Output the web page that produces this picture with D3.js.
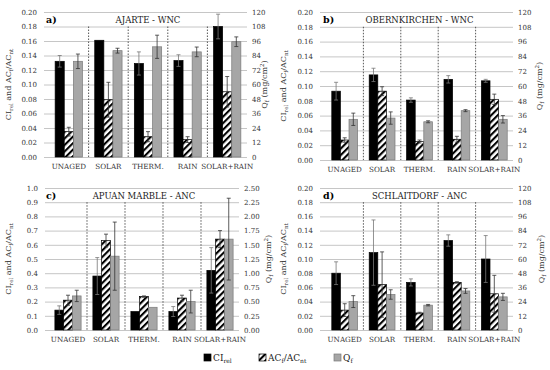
<!DOCTYPE html>
<html><head><meta charset="utf-8">
<script src="https://cdn.jsdelivr.net/npm/d3@7"></script>
<style>body{margin:0;background:#fff}svg{display:block}</style>
</head><body>
<script>
const categories = ["UNAGED","SOLAR","THERM.","RAIN","SOLAR+RAIN"];

// Panel a) AJARTE - WNC
const ciA = [0.132,0.161,0.129,0.133,0.180];
const ciErrA = [0.008,0,0.016,0.008,0.017];
const acA = [0.035,0.079,0.028,0.024,0.090];
const acErrA = [0.006,0.024,0.007,0.004,0.021];
const qA = [79.2,88.0,91.2,87.0,95.4];
const qErrA = [6,2,9.6,4,4];

// Panel b) OBERNKIRCHEN - WNC
const ciB = [0.093,0.115,0.081,0.109,0.107];
const ciErrB = [0.012,0.009,0.003,0.005,0.002];
const acB = [0.027,0.093,0.025,0.028,0.082];
const acErrB = [0.003,0.006,0.002,0.004,0.007];
const qB = [33,34,31,40,33];
const qErrB = [5,5,0.8,0.8,3];

// Panel c) APUAN MARBLE - ANC
const ciC = [0.14,0.38,0.13,0.13,0.42];
const ciErrC = [0.03,0.13,0,0.035,0.16];
const acC = [0.21,0.63,0.235,0.225,0.64];
const acErrC = [0.035,0.045,0.005,0.02,0.06];
const qC = [0.60,1.30,0.40,0.50,1.60];
const qErrC = [0.10,0.60,0,0.20,0.72];

// Panel d) SCHLAITDORF - ANC
const ciD = [0.080,0.109,0.067,0.126,0.100];
const ciErrD = [0.016,0.046,0.005,0.008,0.033];
const acD = [0.028,0.064,0.024,0.067,0.051];
const acErrD = [0.009,0.046,0.001,0.001,0.026];
const qD = [24,30,21,33,28];
const qErrD = [5,4,0.6,2,3];

const leftTicksWNC = [0,0.02,0.04,0.06,0.08,0.10,0.12,0.14,0.16,0.18,0.20];
const rightTicksWNC = [0,12,24,36,48,60,72,84,96,108,120];
const leftTicksC = [0,0.1,0.2,0.3,0.4,0.5,0.6,0.7,0.8,0.9,1.0];
const rightTicksC = [0,0.25,0.5,0.75,1.0,1.25,1.5,1.75,2.0,2.25,2.5];

const FONT = "DejaVu Serif";
const TS = 7;

const panels = [
  {tag:"a)", title:"AJARTE - WNC", ci:ciA, ciE:ciErrA, ac:acA, acE:acErrA, q:qA, qE:qErrA,
   lMax:0.20, rMax:120, lt:leftTicksWNC, rt:rightTicksWNC, lf:".2f", rf:"d",
   x0:49, x1:247, yT:12, yB:157, gx:44, lblX:8, rlblX:264},
  {tag:"b)", title:"OBERNKIRCHEN - WNC", ci:ciB, ciE:ciErrB, ac:acB, acE:acErrB, q:qB, qE:qErrB,
   lMax:0.20, rMax:120, lt:leftTicksWNC, rt:rightTicksWNC, lf:".2f", rf:"d",
   x0:326, x1:513, yT:12, yB:160, gx:320, lblX:283, rlblX:539},
  {tag:"c)", title:"APUAN MARBLE - ANC", ci:ciC, ciE:ciErrC, ac:acC, acE:acErrC, q:qC, qE:qErrC,
   lMax:1.0, rMax:2.5, lt:leftTicksC, rt:rightTicksC, lf:".1f", rf:".2f",
   x0:49, x1:239, yT:188, yB:330, gx:45, lblX:8, rlblX:268},
  {tag:"d)", title:"SCHLAITDORF - ANC", ci:ciD, ciE:ciErrD, ac:acD, acE:acErrD, q:qD, qE:qErrD,
   lMax:0.20, rMax:120, lt:leftTicksWNC, rt:rightTicksWNC, lf:".2f", rf:"d",
   x0:326, x1:513, yT:188, yB:330, gx:320, lblX:283, rlblX:541}
];

const svg = d3.select("body").append("svg").attr("width",550).attr("height",370)
  .attr("font-family",FONT);
const defs = svg.append("defs");
const pat = defs.append("pattern").attr("id","hatch").attr("patternUnits","userSpaceOnUse")
  .attr("width",4.6).attr("height",4.6).attr("patternTransform","rotate(45)");
pat.append("rect").attr("width",4.6).attr("height",4.6).attr("fill","#fff");
pat.append("rect").attr("width",2.1).attr("height",4.6).attr("fill","#000");

function styleTicks(sel){
  sel.attr("font-family",FONT);
  sel.selectAll("text").attr("font-size",TS).attr("fill","#333").attr("font-family",FONT);
}

function drawPanel(p){
  const g = svg.append("g");
  const x = d3.scaleBand().domain(categories).range([p.x0,p.x1]);
  const yL = d3.scaleLinear().domain([0,p.lMax]).range([p.yB,p.yT]);
  const yR = d3.scaleLinear().domain([0,p.rMax]).range([p.yB,p.yT]);
  const bw = x.bandwidth();
  const gw = bw*0.69, b = gw/3;

  const la = g.append("g").attr("transform",`translate(${p.gx},0)`)
    .call(d3.axisLeft(yL).tickValues(p.lt).tickFormat(d3.format(p.lf))
      .tickSize(-(p.x1-p.gx)).tickPadding(7));
  la.select(".domain").remove();
  la.selectAll("line").attr("stroke","#c6c6c6");
  styleTicks(la);

  const ra = g.append("g").attr("transform",`translate(${p.x1},0)`)
    .call(d3.axisRight(yR).tickValues(p.rt).tickFormat(d3.format(p.rf)).tickSize(0).tickPadding(5));
  ra.select(".domain").remove();
  styleTicks(ra);

  categories.slice(1).forEach(c=>{
    g.append("line").attr("x1",x(c)).attr("x2",x(c))
      .attr("y1",yL(p.lMax*0.9)).attr("y2",yL(0))
      .attr("stroke","#444").attr("stroke-width",0.9).attr("stroke-dasharray","1.5,1.5");
  });

  const xa = g.append("g").attr("transform",`translate(0,${p.yB})`)
    .call(d3.axisBottom(x).tickSize(0).tickPadding(7));
  xa.select(".domain").remove();
  styleTicks(xa);
  xa.selectAll("text").attr("font-size",7.2);

  const series = [
    {v:p.ci, e:p.ciE, y:yL, fill:"#000", stroke:"#000"},
    {v:p.ac, e:p.acE, y:yL, fill:"url(#hatch)", stroke:"#000"},
    {v:p.q,  e:p.qE,  y:yR, fill:"#a6a6a6", stroke:"#7a7a7a"}
  ];
  series.forEach((s,si)=>{
    categories.forEach((c,i)=>{
      const bx = x(c) + (bw-gw)/2 + si*b;
      g.append("rect").attr("x",bx).attr("y",s.y(s.v[i]))
        .attr("width",b).attr("height",s.y(0)-s.y(s.v[i]))
        .attr("fill",s.fill).attr("stroke",s.stroke).attr("stroke-width",0.7);
    });
  });
  series.forEach((s,si)=>{
    categories.forEach((c,i)=>{
      if(!s.e[i]) return;
      const cx = x(c) + (bw-gw)/2 + si*b + b/2;
      const yh = s.y(s.v[i]+s.e[i]), yl = s.y(Math.max(0,s.v[i]-s.e[i]));
      const col = si===0 ? "#777" : "#333";
      g.append("line").attr("x1",cx).attr("x2",cx).attr("y1",yh).attr("y2",yl).attr("stroke",col).attr("stroke-width",0.8);
      g.append("line").attr("x1",cx-2).attr("x2",cx+2).attr("y1",yh).attr("y2",yh).attr("stroke",col).attr("stroke-width",0.8);
      g.append("line").attr("x1",cx-2).attr("x2",cx+2).attr("y1",yl).attr("y2",yl).attr("stroke",col).attr("stroke-width",0.8);
    });
  });

  const ty = yL(p.lMax*0.945);
  g.append("text").attr("x",p.x0-3).attr("y",ty).attr("dy","0.35em").attr("font-size",9.5)
    .attr("font-weight","bold").attr("fill","#000").text(p.tag);
  g.append("text").attr("x",(p.x0+p.x1)/2).attr("y",ty).attr("dy","0.35em").attr("font-size",8.5)
    .attr("text-anchor","middle").attr("fill","#222").text(p.title);

  const cy = (p.yT+p.yB)/2;
  const lt = g.append("text").attr("transform",`translate(${p.lblX},${cy}) rotate(-90)`)
    .attr("text-anchor","middle").attr("dy","0.35em").attr("font-size",8).attr("fill","#333");
  lt.append("tspan").text("CI");
  lt.append("tspan").attr("font-size",5.5).attr("dy",2).text("rel");
  lt.append("tspan").attr("dy",-2).text(" and AC");
  lt.append("tspan").attr("font-size",5.5).attr("dy",2).text("f");
  lt.append("tspan").attr("dy",-2).text("/AC");
  lt.append("tspan").attr("font-size",5.5).attr("dy",2).text("nt");

  const rtx = g.append("text").attr("transform",`translate(${p.rlblX},${cy}) rotate(-90)`)
    .attr("text-anchor","middle").attr("dy","0.35em").attr("font-size",8).attr("fill","#333");
  rtx.append("tspan").text("Q");
  rtx.append("tspan").attr("font-size",5.5).attr("dy",2).text("f");
  rtx.append("tspan").attr("dy",-2).text(" (mg/cm");
  rtx.append("tspan").attr("font-size",5.5).attr("dy",-3).text("2");
  rtx.append("tspan").attr("dy",3).text(")");
}
panels.forEach(drawPanel);

const legendItems = [
  {fill:"#000", stroke:"#000", main:"CI", sub:"rel", extra:false},
  {fill:"url(#hatch)", stroke:"#000", main:"AC", sub:"f", extra:true},
  {fill:"#a6a6a6", stroke:"#7a7a7a", main:"Q", sub:"f", extra:false}
];
const legX = [204,259,334];
const lg = svg.append("g");
legendItems.forEach((it,i)=>{
  lg.append("rect").attr("x",legX[i]).attr("y",354).attr("width",7).attr("height",7)
    .attr("fill",it.fill).attr("stroke",it.stroke).attr("stroke-width",0.7);
  const t = lg.append("text").attr("x",legX[i]+9).attr("y",357.5).attr("dy","0.35em")
    .attr("font-size",9).attr("fill","#222");
  t.append("tspan").text(it.main);
  t.append("tspan").attr("font-size",6).attr("dy",2).text(it.sub);
  if(it.extra){
    t.append("tspan").attr("dy",-2).text("/AC");
    t.append("tspan").attr("font-size",6).attr("dy",2).text("nt");
  }
});
</script>
</body></html>
